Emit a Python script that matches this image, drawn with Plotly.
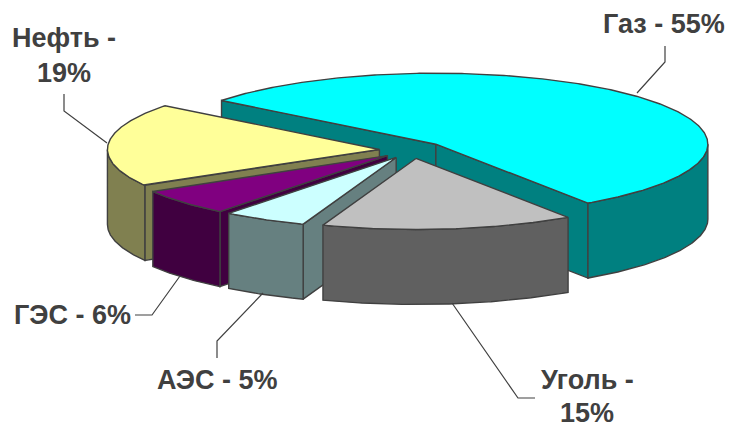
import numpy as np
import plotly.graph_objects as go

# Energy mix by source, percent of total
sources = ["Газ", "Уголь", "АЭС", "ГЭС", "Нефть"]
shares = [55, 15, 5, 6, 19]

top_colors = ["#00FFFF", "#C0C0C0", "#CCFFFF", "#800080", "#FFFF99"]
side_colors = ["#008080", "#606060", "#668080", "#400040", "#808050"]
EDGE = "#404040"
TEXT = "#404040"

# Projection of the tilted exploded pie on the 729x425 canvas
CX, CY = 412, 150
RX, RY = 272, 71
DEPTH = 75
EXPLODE = 0.12
START_DEG = 142
DRAW_ORDER = [0, 4, 3, 2, 1]

# Label text lines with their anchor, and the elbow leader running to each slice
label_lines = {
    "Газ": ([("Газ - 55%", 664, 24)], [(637, 93), (665, 62), (665, 46)]),
    "Уголь": ([("Уголь -", 587, 380), ("15%", 587, 413)], [(452, 303), (518, 398), (535, 398)]),
    "АЭС": ([("АЭС - 5%", 217, 380)], [(263, 293), (217, 341), (217, 358)]),
    "ГЭС": ([("ГЭС - 6%", 72, 315)], [(180, 276), (152, 315), (135, 315)]),
    "Нефть": ([("Нефть -", 64, 38), ("19%", 64, 73)], [(107, 143), (64, 111), (64, 94)]),
}


def rim(cx, cy, a0, a1, dy=0.0):
    """Points on the ellipse between two angles given in degrees."""
    n = max(2, int(abs(a1 - a0)) * 2 + 1)
    t = np.radians(np.linspace(a0, a1, n))
    return cx + RX * np.cos(t), cy - RY * np.sin(t) + dy


def face(fig, xs, ys, color):
    fig.add_trace(go.Scatter(
        x=np.append(xs, xs[0]), y=np.append(ys, ys[0]),
        mode="lines", fill="toself", fillcolor=color,
        line=dict(color=EDGE, width=1.4),
        hoverinfo="skip", showlegend=False,
    ))


def cut_face(fig, ax, ay, angle, color):
    """Radial wall from the slice apex to its rim, extruded downwards."""
    ex, ey = rim(ax, ay, angle, angle)
    ex, ey = ex[0], ey[0]
    face(fig, np.array([ax, ex, ex, ax]), np.array([ay, ey, ey + DEPTH, ay + DEPTH]), color)


# Walk round the pie clockwise to get each slice's angular span
spans = []
angle = START_DEG
for share in shares:
    sweep = share * 3.6
    spans.append((angle, angle - sweep))
    angle -= sweep

fig = go.Figure()

for i in DRAW_ORDER:
    a0, a1 = spans[i]
    mid = np.radians((a0 + a1) / 2)
    ax = CX + EXPLODE * RX * np.cos(mid)
    ay = CY - EXPLODE * RY * np.sin(mid)

    # A radial wall shows only when the slice's top lies above it
    if np.cos(np.radians(a0)) < 0:
        cut_face(fig, ax, ay, a0, side_colors[i])
    if np.cos(np.radians(a1)) > 0:
        cut_face(fig, ax, ay, a1, side_colors[i])

    # Outer wall: only the front half of the rim, where sin(angle) < 0
    lo = max(a1, -180)
    hi = min(a0, 0)
    if hi > lo:
        x_top, y_top = rim(ax, ay, hi, lo)
        x_bot, y_bot = rim(ax, ay, lo, hi, DEPTH)
        face(fig, np.concatenate([x_top, x_bot]), np.concatenate([y_top, y_bot]), side_colors[i])

    # Top surface
    x_arc, y_arc = rim(ax, ay, a0, a1)
    face(fig, np.concatenate([[ax], x_arc]), np.concatenate([[ay], y_arc]), top_colors[i])

annotations = []
for name in sources:
    lines, leader = label_lines[name]
    fig.add_trace(go.Scatter(
        x=[p[0] for p in leader], y=[p[1] for p in leader],
        mode="lines", line=dict(color=EDGE, width=1.2),
        hoverinfo="skip", showlegend=False,
    ))
    for text, x, y in lines:
        annotations.append(dict(
            x=x, y=y, text=f"<b>{text}</b>", showarrow=False,
            xanchor="center", yanchor="middle",
            font=dict(family="Liberation Sans, Arial, sans-serif", size=27, color=TEXT),
        ))

fig.update_layout(
    width=729, height=425,
    margin=dict(l=0, r=0, t=0, b=0),
    paper_bgcolor="white", plot_bgcolor="white",
    xaxis=dict(range=[0, 729], visible=False, fixedrange=True),
    yaxis=dict(range=[425, 0], visible=False, fixedrange=True),
    annotations=annotations,
)

fig.write_html("out.html", config=dict(displayModeBar=False))
